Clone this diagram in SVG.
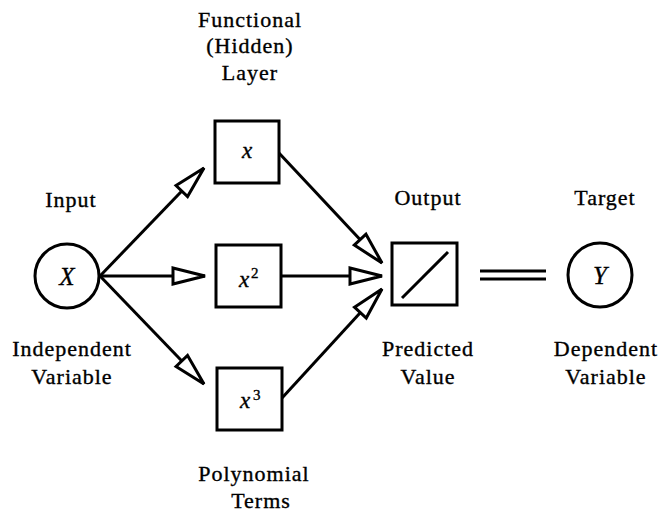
<svg xmlns="http://www.w3.org/2000/svg" width="666" height="513" viewBox="0 0 666 513" font-family="Liberation Serif, DejaVu Serif, serif">
<defs>
<style>
text{font-family:"Liberation Serif",serif;fill:#000;stroke:#000;stroke-width:0.35}
.lbl{font-size:22px;letter-spacing:1px;text-anchor:middle}
.math{font-style:italic;font-size:23px;text-anchor:middle}
.sup{font-size:15px}
.shape{fill:#fff;stroke:#000;stroke-width:3}
.edge{fill:none;stroke:#000;stroke-width:3}
</style>
<marker id="ah" markerUnits="userSpaceOnUse" markerWidth="38" markerHeight="22" viewBox="-2 -2 38 22" refX="33" refY="9" orient="auto">
<path d="M1,1 L33,9 L1,17 Z" fill="#fff" stroke="#000" stroke-width="3" stroke-linejoin="miter"/>
</marker>
</defs>
<rect width="666" height="513" fill="#fff"/>

<g id="connectors">
<line class="edge" x1="100" y1="276" x2="204" y2="168" marker-end="url(#ah)"/>
<line class="edge" x1="100" y1="276" x2="205" y2="276" marker-end="url(#ah)"/>
<line class="edge" x1="100" y1="276" x2="204" y2="384" marker-end="url(#ah)"/>
<line class="edge" x1="279" y1="153" x2="382" y2="263" marker-end="url(#ah)"/>
<line class="edge" x1="281" y1="276" x2="382" y2="276" marker-end="url(#ah)"/>
<line class="edge" x1="282" y1="398" x2="382" y2="289" marker-end="url(#ah)"/>
<line class="edge" x1="480" y1="271" x2="546" y2="271"/>
<line class="edge" x1="480" y1="279" x2="546" y2="279"/>
</g>

<g id="node-input">
<circle class="shape" cx="67" cy="276" r="32"/>
<text class="math" x="67" y="285" style="font-size:25px">X</text>
<text class="lbl" x="71" y="207">Input</text>
<text class="lbl" x="72" y="356">Independent</text>
<text class="lbl" x="72" y="384">Variable</text>
</g>

<g id="node-x1">
<rect class="shape" x="215" y="121" width="64" height="62"/>
<text class="math" x="247" y="158">x</text>
</g>

<g id="node-x2">
<rect class="shape" x="216" y="245" width="65" height="62"/>
<text class="math" x="244" y="287">x</text>
<text class="sup" x="251" y="278">2</text>
</g>

<g id="node-x3">
<rect class="shape" x="217" y="368" width="65" height="62"/>
<text class="math" x="245" y="408">x</text>
<text class="sup" x="253" y="400">3</text>
</g>

<g id="hidden-labels">
<text class="lbl" x="250" y="27">Functional</text>
<text class="lbl" x="250" y="53">(Hidden)</text>
<text class="lbl" x="250" y="80">Layer</text>
<text class="lbl" x="254" y="481">Polynomial</text>
<text class="lbl" x="261" y="508">Terms</text>
</g>

<g id="node-output">
<rect class="shape" x="392" y="243" width="65" height="62"/>
<line class="edge" x1="402" y1="298" x2="448" y2="252"/>
<text class="lbl" x="428" y="205">Output</text>
<text class="lbl" x="428" y="356">Predicted</text>
<text class="lbl" x="428" y="384">Value</text>
</g>

<g id="node-target">
<circle class="shape" cx="600" cy="275" r="32"/>
<text class="math" x="600" y="284" style="font-size:25px">Y</text>
<text class="lbl" x="605" y="205">Target</text>
<text class="lbl" x="606" y="356">Dependent</text>
<text class="lbl" x="606" y="384">Variable</text>
</g>
</svg>
